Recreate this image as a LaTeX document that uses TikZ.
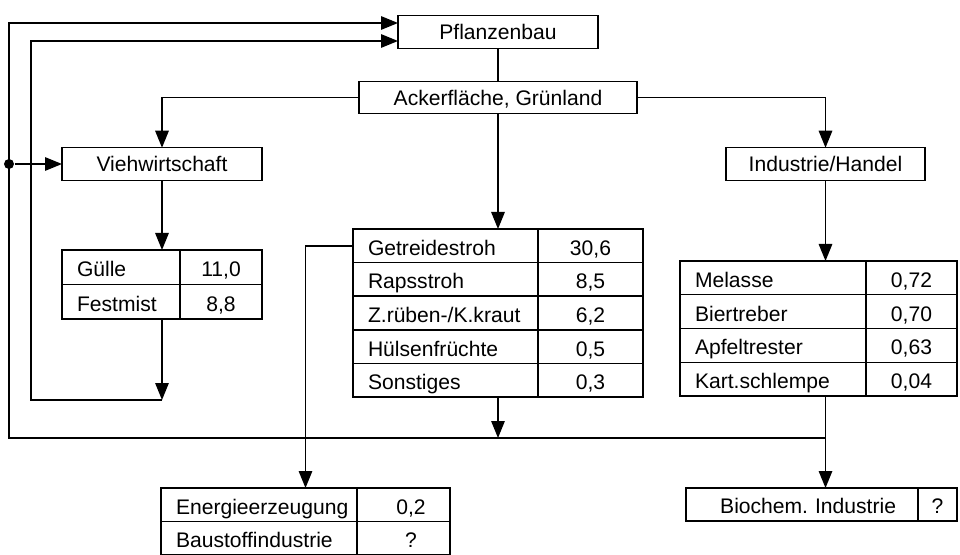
\documentclass[tikz,border=0pt]{standalone}
\usepackage{fontspec}
\setmainfont{Liberation Sans}
\usepackage{tikz}
\usetikzlibrary{arrows.meta,calc,positioning}
\tikzset{
  line cap=butt,
  line join=miter,
  every picture/.style={line width=0.8pt},
  box/.style={draw, minimum height=0.65cm, inner sep=0pt, outer sep=0pt, align=center, text height=10pt, text depth=1.4pt},
  cell/.style={draw, minimum height=#1, inner ysep=0pt, outer sep=0pt, text height=11pt, text depth=0.2pt},
  namecell/.style={cell=#1, inner xsep=0.3cm, align=left},
  valcell/.style={cell=#1, inner xsep=0pt, align=center},
  arrow/.style={-{Triangle[length=0.34cm, width=0.27cm]}},
  dot/.style={circle, fill, inner sep=0pt, minimum size=0.2cm}
}

\begin{document}
\begin{tikzpicture}[font=\fontsize{12}{14}\selectfont]
	\useasboundingbox (0,0) rectangle (19.2,11.08);

	% Draw the main boxes
	\node[box, minimum width=4cm] (pflanz) at (9.96, 10.44) {Pflanzenbau};
	\node[box, minimum width=5.56cm] (acker) at (9.96, 9.13) {Ackerfläche, Grünland};
	\node[box, minimum width=4cm] (vieh) at (3.24, 7.80) {Viehwirtschaft};
	\node[box, minimum width=3.98cm] (indh) at (16.51, 7.80) {Industrie/Handel};

	% Tables of residues
	\foreach \txt/\val [count=\i] in {Gülle/{11,0}, Festmist/{8,8}} {
		\node[namecell=0.69cm, text width=1.76cm] (gu\i) at (2.42, {5.735-0.69*(\i-1)}) {\txt};
		\node[valcell=0.69cm, minimum width=1.64cm, right=0pt of gu\i] (guv\i) {\val};
	}
	\foreach \txt/\val [count=\i] in {Getreidestroh/{30,6}, Rapsstroh/{8,5}, {Z.rüben-/K.kraut}/{6,2}, Hülsenfrüchte/{0,5}, Sonstiges/{0,3}} {
		\node[namecell=0.672cm, text width=3.1cm] (g\i) at (8.91, {6.164-0.672*(\i-1)}) {\txt};
		\node[valcell=0.672cm, minimum width=2.1cm, right=0pt of g\i] (gv\i) {\val};
	}
	\foreach \txt/\val [count=\i] in {Melasse/{0,72}, Biertreber/{0,70}, Apfeltrester/{0,63}, Kart.schlempe/{0,04}} {
		\node[namecell=0.675cm, text width=3.12cm] (in\i) at (15.46, {5.5225-0.675*(\i-1)}) {\txt};
		\node[valcell=0.675cm, minimum width=1.82cm, right=0pt of in\i] (inv\i) {\val};
	}
	\foreach \txt/\val [count=\i] in {Energieerzeugung/{0,2}, Baustoffindustrie/?} {
		\node[namecell=0.67cm, text width=3.32cm] (en\i) at (5.18, {0.985-0.67*(\i-1)}) {\txt};
		\node[valcell=0.67cm, minimum width=1.86cm, right=0pt of en\i] (env\i) {\hspace*{0.3cm}\val};
	}
	\node[cell=0.66cm, text width=3.76cm, inner xsep=0.44cm, align=right] (bio) at (16.04, 0.99) {Biochem.\ Industrie};
	\node[valcell=0.66cm, minimum width=0.78cm, right=0pt of bio] (biov) {?};

	% Helper points of the return lines
	\coordinate (outerbot) at (0.18, 2.32);
	\coordinate (innerbot) at (0.62, 3.08);
	\coordinate (pout) at ([yshift=0.18cm]pflanz.west);
	\coordinate (pin) at ([yshift=-0.18cm]pflanz.west);
	\coordinate (split) at (outerbot |- vieh.west);
	\coordinate (entop) at ($(en1.north west)!0.5!(env1.north east)$);

	% Main flow
	\draw (pflanz.south) -- (acker.north);
	\draw[arrow] (acker.west) -| (vieh.north);
	\draw[arrow] (acker.east) -| (indh.north);
	\draw[arrow] (acker.south) -- (acker.south |- g1.north);
	\draw[arrow] (vieh.south) -- (vieh.south |- gu1.north);
	\draw[arrow] (indh.south) -- (indh.south |- in1.north);

	% Return lines to Pflanzenbau
	\draw[arrow] (vieh.south |- gu2.south) -- (vieh.south |- innerbot);
	\draw[arrow] (vieh.south |- innerbot) -- (innerbot) -- (innerbot |- pin) -- (pin);
	\draw[arrow] (acker.south |- g5.south) -- (acker.south |- outerbot);
	\draw[arrow] (indh.south |- in4.south) -- (indh.south |- bio.north);
	\draw[arrow] (indh.south |- outerbot) -- (outerbot) -- (outerbot |- pout) -- (pout);
	\node[dot] (splitdot) at (split) {};
	\draw[arrow] (splitdot) -- (vieh.west);
	\draw[arrow] (g1.west) -| (entop);
\end{tikzpicture}
\end{document}
